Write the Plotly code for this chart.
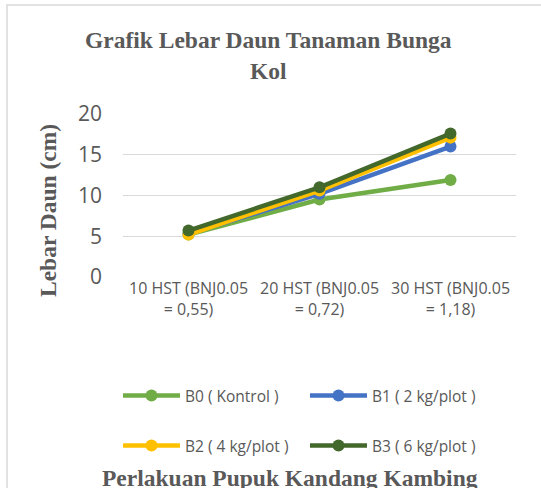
import plotly.graph_objects as go

categories = ["10 HST (BNJ0.05<br>= 0,55)", "20 HST (BNJ0.05<br>= 0,72)", "30 HST (BNJ0.05<br>= 1,18)"]
series_names = ["B0 ( Kontrol )", "B1 ( 2 kg/plot )", "B2 ( 4 kg/plot )", "B3 ( 6 kg/plot )"]
b0 = [5.2, 9.5, 11.9]
b1 = [5.3, 10.2, 16.0]
b2 = [5.2, 10.6, 17.1]
b3 = [5.7, 11.0, 17.6]
colors = ["#70AD47", "#4472C4", "#FFC000", "#43682B"]
legends = ["legend", "legend", "legend2", "legend2"]

W, H = 541, 488
L, R, T, B = 123, 516, 114, 277
pw, ph = R - L, B - T
def px(x): return (x - L) / pw
def py(y): return (B - y) / ph

fig = go.Figure()
for name, vals, c, lg in zip(series_names, [b0, b1, b2, b3], colors, legends):
    fig.add_trace(go.Scatter(
        x=categories, y=vals, name=name, mode="lines+markers",
        line=dict(color=c, width=4.5), marker=dict(color=c, size=12),
        legend=lg,
    ))

gray = "#595959"
sans = "Open Sans"
serif = "Liberation Serif"

leg_common = dict(orientation="h", xanchor="left", yanchor="middle",
                  entrywidth=115, entrywidthmode="pixels", itemwidth=57,
                  font=dict(family=sans, size=15.5, color=gray), bgcolor="rgba(0,0,0,0)")

fig.update_layout(
    width=W, height=H,
    margin=dict(l=L, r=W - R, t=T, b=H - B),
    paper_bgcolor="white", plot_bgcolor="white",
    showlegend=True,
    xaxis=dict(range=[-0.5, 2.5], showgrid=False, zeroline=False, showline=False,
               ticks="", tickfont=dict(family=sans, size=16, color=gray)),
    yaxis=dict(range=[0, 20], dtick=5, showgrid=True, gridcolor="#D9D9D9", gridwidth=1,
               zeroline=False, showline=False, ticks="", ticklabelstandoff=20,
               tickfont=dict(family=sans, size=21, color=gray)),
    legend=dict(x=px(118), y=py(396), **leg_common),
    legend2=dict(x=px(118), y=py(446), **leg_common),
    annotations=[
        dict(text="<b>Grafik Lebar Daun Tanaman Bunga<br>Kol</b>", xref="paper", yref="paper",
             x=px(268), y=py(55), xanchor="center", yanchor="middle", showarrow=False,
             font=dict(family=serif, size=23.5, color=gray)),
        dict(text="<b>Lebar Daun (cm)</b>", xref="paper", yref="paper", textangle=-90,
             x=px(48), y=py(211), xanchor="center", yanchor="middle", showarrow=False,
             font=dict(family=serif, size=23.5, color=gray)),
        dict(text="<b>Perlakuan Pupuk Kandang Kambing</b>", xref="paper", yref="paper",
             x=px(290), y=py(478), xanchor="center", yanchor="middle", showarrow=False,
             font=dict(family=serif, size=23.5, color=gray)),
    ],
    shapes=[dict(type="rect", xref="paper", yref="paper", x0=px(7), x1=px(560),
                 y0=py(520), y1=py(5), line=dict(color="#D9D9D9", width=1.5), layer="below")],
)

fig.write_html("out.html", config={"displayModeBar": False},
               post_script="document.body.style.margin='0';")
